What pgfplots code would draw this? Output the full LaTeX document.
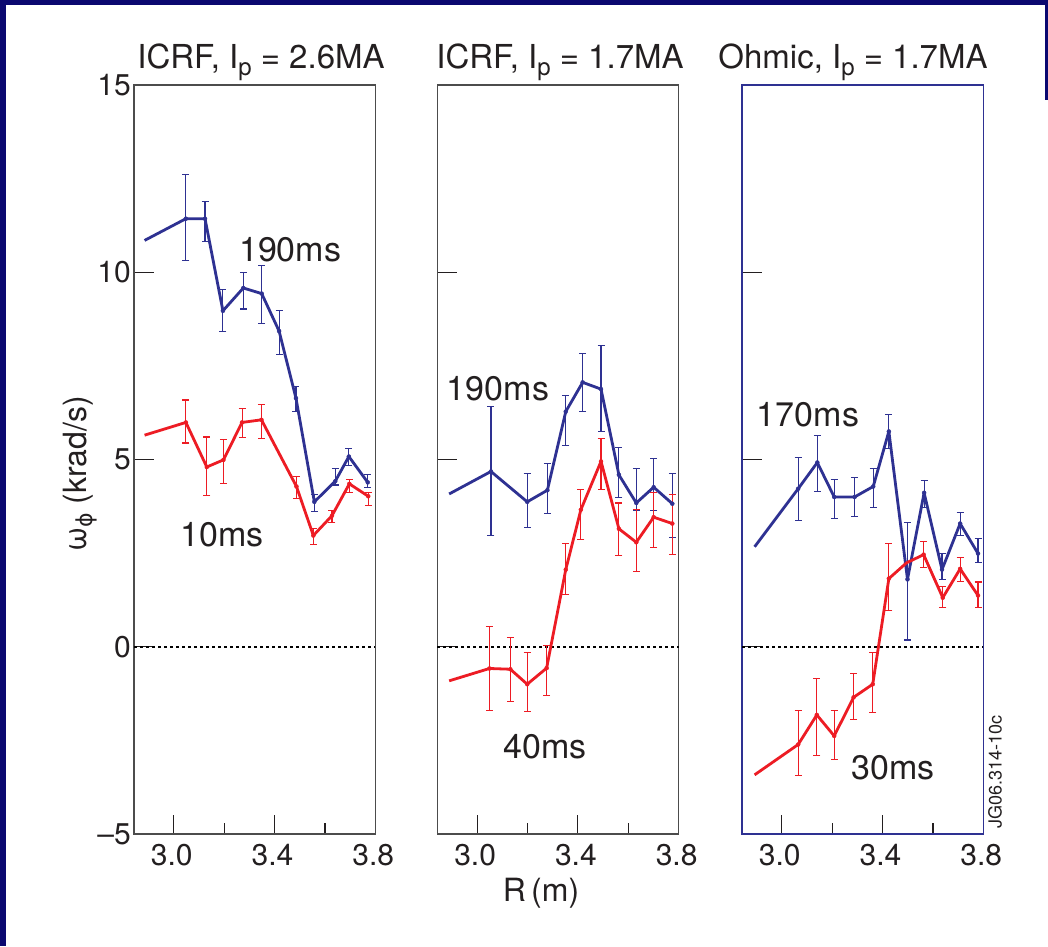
\documentclass[border=0pt]{standalone}
\usepackage{pgfplots}
\pgfplotsset{compat=1.18}
\usepackage{pgfplotstable}
\usepackage{fontspec}
\setmainfont{TeX Gyre Heros}
\newfontfamily\dejavu{DejaVu Sans}
\definecolor{navyframe}{HTML}{0B0870}
\definecolor{pblue}{HTML}{2E3192}
\definecolor{pred}{HTML}{ED1C24}
\definecolor{ink}{HTML}{231F20}

% x  y  ep (up)  em (down)
\pgfplotstableread{
x y ep em
2.884 10.85 0 0
3.048 11.43 1.18 1.11
3.124 11.43 0.45 0.62
3.195 8.97 0.58 0.55
3.276 9.58 0.41 0.56
3.349 9.43 0.75 0.80
3.418 8.43 0.56 0.63
3.485 6.64 0.31 0.36
3.558 3.87 0.19 0.25
3.641 4.42 0.33 0.10
3.695 5.08 0.21 0.24
3.770 4.39 0.20 0.13
}\blueA
\pgfplotstableread{
x y ep em
2.884 5.65 0 0
3.048 5.99 0.60 0.55
3.131 4.80 0.80 0.75
3.197 4.99 0.54 0.64
3.271 5.99 0.38 0.40
3.348 6.06 0.42 0.51
3.487 4.28 0.27 0.31
3.554 2.97 0.18 0.24
3.628 3.50 0.13 0.19
3.697 4.35 0.11 0.23
3.772 4.02 0.09 0.24
}\redA
\pgfplotstableread{
x y ep em
2.889 4.08 0 0
3.055 4.68 1.73 1.71
3.199 3.87 0.75 0.68
3.279 4.18 0.72 0.62
3.352 6.28 0.43 0.91
3.419 7.06 0.76 0.78
3.492 6.88 1.16 1.13
3.563 4.59 0.74 0.60
3.632 3.84 0.92 0.20
3.701 4.26 0.76 0.63
3.775 3.82 0.80 0.90
}\blueB
\pgfplotstableread{
x y ep em
2.889 -0.91 0 0
3.049 -0.58 1.11 1.13
3.132 -0.60 0.84 0.87
3.199 -1.00 0.85 0.73
3.276 -0.57 0.61 0.74
3.352 2.06 0.69 0.66
3.412 3.66 0.55 0.80
3.492 4.95 0.62 0.74
3.563 3.15 0.69 0.71
3.632 2.79 0.87 0.79
3.701 3.46 0.67 0.82
3.775 3.29 0.77 0.83
}\redB
\pgfplotstableread{
x y ep em
2.892 2.67 0 0
3.065 4.22 0.83 0.85
3.141 4.92 0.72 0.77
3.208 4.00 0.46 0.58
3.289 4.00 0.52 0.52
3.363 4.28 0.47 0.56
3.425 5.75 0.45 0.45
3.499 1.80 1.51 1.62
3.565 4.11 0.33 0.40
3.636 2.06 0.43 0.26
3.708 3.29 0.30 0.32
3.779 2.49 0.40 0.23
}\blueC
\pgfplotstableread{
x y ep em
2.892 -3.42 0 0
3.065 -2.61 0.90 0.83
3.139 -1.82 0.98 1.09
3.208 -2.38 0.67 0.63
3.285 -1.35 0.64 0.60
3.361 -1.00 0.85 0.75
3.425 1.82 0.93 0.85
3.495 2.24 0 0
3.563 2.46 0.36 0.35
3.639 1.31 0.31 0.27
3.708 2.08 0.30 0.33
3.779 1.37 0.36 0.31
}\redC

\newcommand\sub[1]{\raisebox{-7pt}{\fontsize{24}{24}\selectfont #1}}

\pgfplotsset{
  panel/.style={
    scale only axis, width=241.3pt, height=749pt,
    xmin=2.842, xmax=3.8, ymin=-5, ymax=15,
    xtick={3.0,3.4,3.8}, xticklabels={3.0,3.4,3.8},
    minor xtick={3.2,3.6},
    ytick={-5,0,5,10,15},
    tick align=inside, xtick pos=bottom, ytick pos=left,
    major tick length=19.5pt, minor tick length=11pt,
    every tick/.style={line width=1.2pt, ink},
    axis line style={line width=1.5pt, black!70},
    tick label style={font=\fontsize{30}{30}\selectfont, text=ink},
    xticklabel style={inner sep=0pt, yshift=-10pt, xshift=-2pt},
    yticklabel style={inner sep=3pt},
    clip=false,
  },
  dataline/.style={line width=2.8pt, line join=round},
  errs/.style={only marks, mark=none, forget plot,
    skip coords between index={0}{1},
    error bars/.cd, y dir=both, y explicit,
    error bar style={line width=1.1pt},
    error mark=-,
    error mark options={rotate=90, line width=1.1pt, mark size=3.5pt},
    /pgfplots/.cd},
  zeroline/.style={black, line width=1.8pt, dash pattern=on 3pt off 3pt},
}

\begin{document}
\begin{tikzpicture}
\path[use as bounding box, fill=white] (0,0) rectangle (1048pt,-946pt);
\fill[navyframe] (0,0) rectangle (6pt,-946pt);
\fill[navyframe] (0,0) rectangle (1048pt,-4.5pt);
\fill[navyframe] (1045pt,0) rectangle (1048pt,-100pt);

% panel 1
\begin{axis}[panel, at={(134pt,-834pt)}, anchor=south west,
  yticklabels={\textendash5,0,5,10,15}]
  \addplot[zeroline] coordinates {(2.842,0) (3.8,0)};
  \addplot[pblue, dataline] table[x=x,y=y] {\blueA};
  \addplot[pblue, errs] table[x=x,y=y,y error plus=ep,y error minus=em] {\blueA};
  \addplot[pred, dataline] table[x=x,y=y] {\redA};
  \addplot[pred, errs] table[x=x,y=y,y error plus=ep,y error minus=em] {\redA};
  \node[font=\fontsize{34}{34}\selectfont, text=ink] at (axis cs:3.462,10.59) {190ms};
  \node[font=\fontsize{34}{34}\selectfont, text=ink] at (axis cs:3.192,2.98) {10ms};
\end{axis}

% panel 2
\begin{axis}[panel, at={(437.3pt,-834pt)}, anchor=south west,
  yticklabels={}]
  \addplot[zeroline] coordinates {(2.842,0) (3.8,0)};
  \addplot[pblue, dataline] table[x=x,y=y] {\blueB};
  \addplot[pblue, errs] table[x=x,y=y,y error plus=ep,y error minus=em] {\blueB};
  \addplot[pred, dataline] table[x=x,y=y] {\redB};
  \addplot[pred, errs] table[x=x,y=y,y error plus=ep,y error minus=em] {\redB};
  \node[font=\fontsize{34}{34}\selectfont, text=ink] at (axis cs:3.083,6.88) {190ms};
  \node[font=\fontsize{34}{34}\selectfont, text=ink] at (axis cs:3.270,-2.68) {40ms};
\end{axis}

% panel 3
\begin{axis}[panel, at={(742pt,-834pt)}, anchor=south west,
  yticklabels={}, axis line style={line width=1.5pt, pblue}]
  \addplot[zeroline] coordinates {(2.842,0) (3.8,0)};
  \addplot[pblue, dataline] table[x=x,y=y] {\blueC};
  \addplot[pblue, errs] table[x=x,y=y,y error plus=ep,y error minus=em] {\blueC};
  \addplot[pred, dataline] table[x=x,y=y] {\redC};
  \addplot[pred, skip coords between index={7}{8}, errs] table[x=x,y=y,y error plus=ep,y error minus=em] {\redC};
  \node[font=\fontsize{34}{34}\selectfont, text=ink] at (axis cs:3.104,6.19) {170ms};
  \node[font=\fontsize{34}{34}\selectfont, text=ink] at (axis cs:3.442,-3.24) {30ms};
\end{axis}

% titles and labels
\begin{scope}[every node/.style={text=ink, font=\fontsize{33}{33}\selectfont}]
\node[anchor=base] at (261pt,-68pt) {ICRF, I\sub{p} = 2.6MA};
\node[anchor=base] at (560pt,-68pt) {ICRF, I\sub{p} = 1.7MA};
\node[anchor=base] at (853pt,-68pt) {Ohmic, I\sub{p} = 1.7MA};
\node[font=\fontsize{32}{32}\selectfont] at (541pt,-893pt) {R\,(m)};
\node[rotate=90, font=\fontsize{32}{32}\selectfont] at (80pt,-474pt)
  {ω\raisebox{-6pt}{\fontsize{22}{22}\selectfont\dejavu ϕ} (krad/s)};
\node[rotate=90, font=\fontsize{18}{18}\selectfont] at (995pt,-772pt) {JG06.314-10c};
\end{scope}
\end{tikzpicture}
\end{document}
